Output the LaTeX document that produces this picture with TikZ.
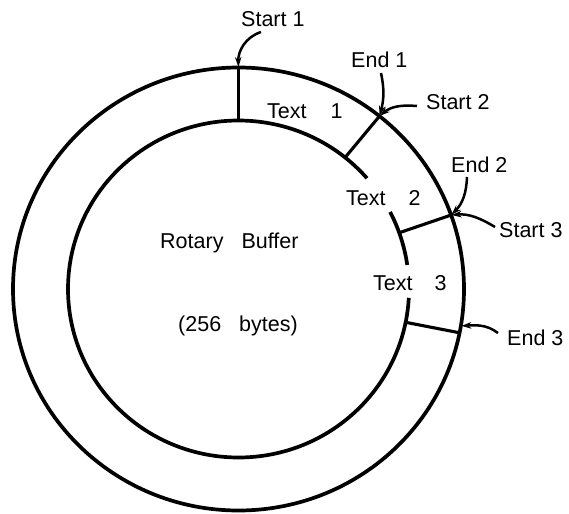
\documentclass[tikz,border=0pt]{standalone}
\usepackage{fontspec}
\setmainfont{Liberation Sans}
\usetikzlibrary{arrows.meta}

\begin{document}
\begin{tikzpicture}[x=1pt,y=1pt,
  ring/.style={line width=3.7pt},
  divider/.style={line width=3.1pt},
  pointer/.style={line width=2.5pt,-{Stealth[length=10pt,width=6.5pt]},shorten >=0.5pt},
  lbl/.style={font=\fontsize{21.5}{24}\selectfont,inner sep=0pt,anchor=base west},
]
\useasboundingbox (0,0) rectangle (569,-513);
\fill[white] (0,0) rectangle (569,-513);

\coordinate (ctr) at (238.5,-289);

% outer edge of the buffer ring
\draw[ring] (ctr) ellipse [x radius=225.5pt, y radius=221.5pt];

% inner edge, left open where the text labels sit
\draw[ring] ([shift={(41.1:170.5pt and 168.5pt)}]ctr)
  arc[start angle=41.1, end angle=357, x radius=170.5pt, y radius=168.5pt];
\draw[ring] ([shift={(8.2:170.5pt and 168.5pt)}]ctr)
  arc[start angle=8.2, end angle=27.2, x radius=170.5pt, y radius=168.5pt];

% boundaries between the stored texts
\foreach \n/\a in {1/90, 2/51.3, 3/19.5, 4/-11.4}{
  \coordinate (o\n) at ([shift={(\a:225.5pt and 221.5pt)}]ctr);
  \coordinate (i\n) at ([shift={(\a:170.5pt and 168.5pt)}]ctr);
  \draw[divider] (o\n) -- (i\n);
}
\coordinate (o5) at ([shift={(-9.6:225.5pt and 221.5pt)}]ctr);

% labels
\node[lbl] (start1) at (241,-27)  {Start 1};
\node[lbl] (end1)   at (351,-68)  {End 1};
\node[lbl] (start2) at (426,-110) {Start 2};
\node[lbl] (end2)   at (451,-172) {End 2};
\node[lbl] (start3) at (499,-237) {Start 3};
\node[lbl] (end3)   at (507,-345) {End 3};
\node[lbl] (text1)  at (267,-119) {Text\hspace{24pt}1};
\node[lbl] (text2)  at (346,-205) {Text\hspace{23pt}2};
\node[lbl] (text3)  at (373,-290) {Text\hspace{22pt}3};
\node[lbl] (rb)     at (160,-248) {Rotary\hspace{18pt}Buffer};
\node[lbl] (size)   at (178,-331) {(256\hspace{18pt}bytes)};

% pointer tails
\coordinate (ts1) at (261,-32);
\coordinate (te1) at (381,-73);
\coordinate (ts2) at (417,-106);
\coordinate (te2) at (467,-177);
\coordinate (ts3) at (495,-227);
\coordinate (te3) at (498,-333);

% pointers onto the ring
\draw[pointer] (ts1) to[out=198,in=92] (o1);
\draw[pointer] (te1) to[out=-78,in=75] (o2);
\draw[pointer] (ts2) to[out=175,in=40] (o2);
\draw[pointer] (te2) to[out=-92,in=45] (o3);
\draw[pointer] (ts3) to[out=149,in=5] (o3);
\draw[pointer] (te3) to[out=143,in=3] (o5);
\end{tikzpicture}
\end{document}
